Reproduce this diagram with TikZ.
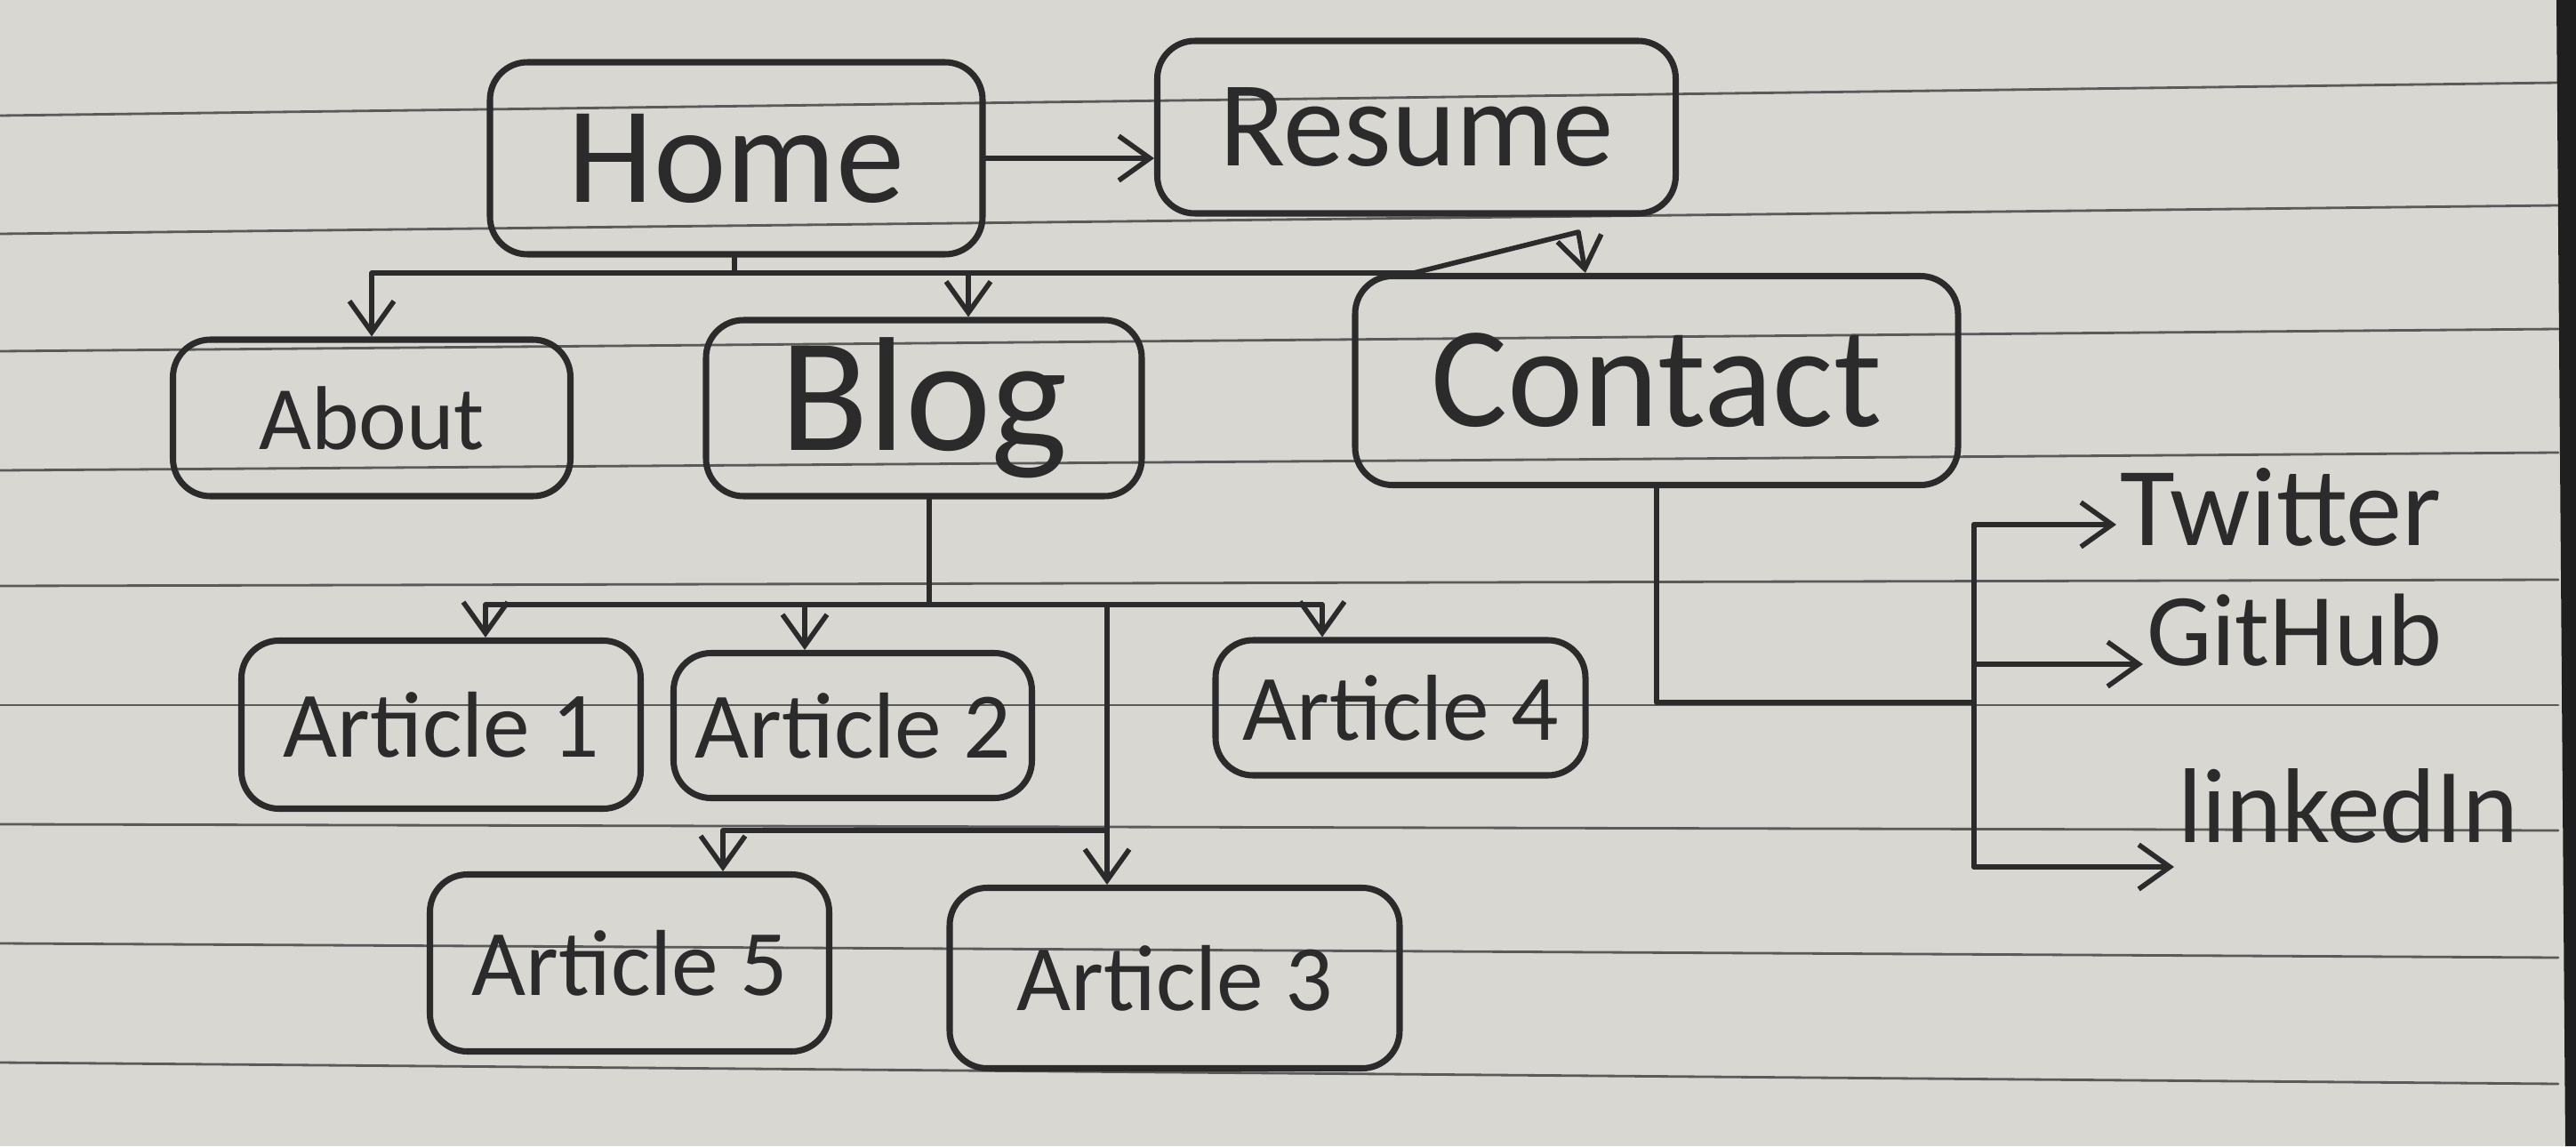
\documentclass[tikz,border=0pt]{standalone}
\usepackage{fontspec}
\setmainfont{Carlito}
\usetikzlibrary{arrows.meta}
\definecolor{paper}{HTML}{D9D7D2}
\definecolor{ink}{HTML}{2B2B2B}
\definecolor{ruling}{HTML}{5A5A5A}

\begin{document}
\begin{tikzpicture}[line cap=round,line join=round,>={Straight Barb[length=3.5mm,width=5mm]},x=1cm,y=1cm,
    box/.style={draw=ink,line width=2.pt,rounded corners=12pt,inner sep=0pt,text=ink},
    bigtxt/.style={font=\fontsize{44}{50}\selectfont},
    arttxt/.style={font=\fontsize{30}{34}\selectfont},
    soctxt/.style={font=\fontsize{36}{40}\selectfont,text=ink,inner sep=1pt,anchor=west},
    link/.style={draw=ink,line width=1.6pt},
    ruled/.style={draw=ruling,line width=0.8pt}]
    \useasboundingbox (0.,0.) rectangle (28.97,12.89);
    \fill[paper] (0.,0.) rectangle (28.97,12.89);
    \draw [ruled] (0.,11.59)-- (28.77,11.96);
    \draw [ruled] (0.,10.26)-- (28.77,10.58);
    \draw [ruled] (0.,8.94)-- (28.77,9.19);
    \draw [ruled] (0.,7.60)-- (28.77,7.80);
    \draw [ruled] (0.,6.30)-- (28.77,6.37);
    \draw [ruled] (0.,4.96)-- (28.77,4.96);
    \draw [ruled] (0.,3.62)-- (28.77,3.55);
    \draw [ruled] (0.,2.28)-- (28.77,2.12);
    \draw [ruled] (0.,0.94)-- (28.77,0.70);
    \fill [black!88] (28.75,12.89)-- (28.85,0.)-- (28.97,0.)-- (28.97,12.89)-- cycle;

    \node[box,bigtxt,minimum width=5.54cm,minimum height=2.16cm] (home) at (8.28,11.11) {Home};
    \node[box,font=\fontsize{39}{44}\selectfont,minimum width=5.83cm,minimum height=1.94cm] (resume) at (15.93,11.46) {Resume};
    \node[box,font=\fontsize{29}{34}\selectfont,minimum width=4.47cm,minimum height=1.76cm] (about) at (4.18,8.19) {About};
    \node[box,font=\fontsize{52}{56}\selectfont,minimum width=4.90cm,minimum height=1.98cm] (blog) at (10.39,8.30) {Blog};
    \node[box,font=\fontsize{46}{50}\selectfont,minimum width=6.78cm,minimum height=2.35cm] (contact) at (18.63,8.61) {Contact};
    \node[box,arttxt,minimum width=4.49cm,minimum height=1.89cm] (art1) at (4.96,4.74) {Article 1};
    \node[box,arttxt,minimum width=4.03cm,minimum height=1.63cm] (art2) at (9.59,4.73) {Article 2};
    \node[box,arttxt,minimum width=4.16cm,minimum height=1.52cm] (art4) at (15.75,4.93) {Article 4};
    \node[box,arttxt,minimum width=4.49cm,minimum height=1.99cm] (art5) at (7.08,2.06) {Article 5};
    \node[box,arttxt,minimum width=5.06cm,minimum height=2.03cm] (art3) at (13.21,1.89) {Article 3};
    \node[soctxt] (twitter) at (23.80,7.19) {Twitter};
    \node[soctxt,font=\fontsize{33}{38}\selectfont] (github) at (24.10,5.80) {GitHub};
    \node[soctxt,font=\fontsize{34}{38}\selectfont] (linkedin) at (24.45,3.83) {linkedIn};

    \draw[link,->] (home.east) -- (home.east -| resume.west);
    \coordinate (hub) at (8.26,9.82);
    \draw[link] (home.south -| hub) -- (hub);
    \draw[link,->] (hub) -| (about.north);
    \draw[link,->] (hub) -| ([xshift=5mm]blog.north);
    \draw[link,->] (hub) -- (15.9,9.82) -- (17.75,10.28) -- ([xshift=-8mm]contact.north);

    \coordinate (bhub) at (10.45,6.09);
    \draw[link] (blog.south -| bhub) -- (bhub);
    \draw[link,->] (bhub) -| ([xshift=5mm]art1.north);
    \draw[link,->] (bhub) -| ([xshift=-5.4mm]art2.north);
    \draw[link,->] (bhub) -| ([xshift=-8.8mm]art4.north);
    \coordinate (split) at (12.45,6.09);
    \draw[link,->] (split) -- (split |- art3.north);
    \coordinate (split5) at (12.45,3.55);
    \draw[link,->] (split5) -| ([xshift=10.5mm]art5.north);

    \coordinate (chub) at (22.2,4.99);
    \coordinate (soctop) at (22.2,6.99);
    \coordinate (socmid) at (22.2,5.42);
    \coordinate (socbot) at (22.2,3.14);
    \draw[link] (contact.south) |- (chub);
    \draw[link] (soctop) -- (socbot);
    \draw[link,->] (soctop) -- (soctop -| twitter.west);
    \draw[link,->] (socmid) -- (socmid -| github.west);
    \draw[link,->] (socbot) -- (socbot -| linkedin.west);
\end{tikzpicture}
\end{document}
